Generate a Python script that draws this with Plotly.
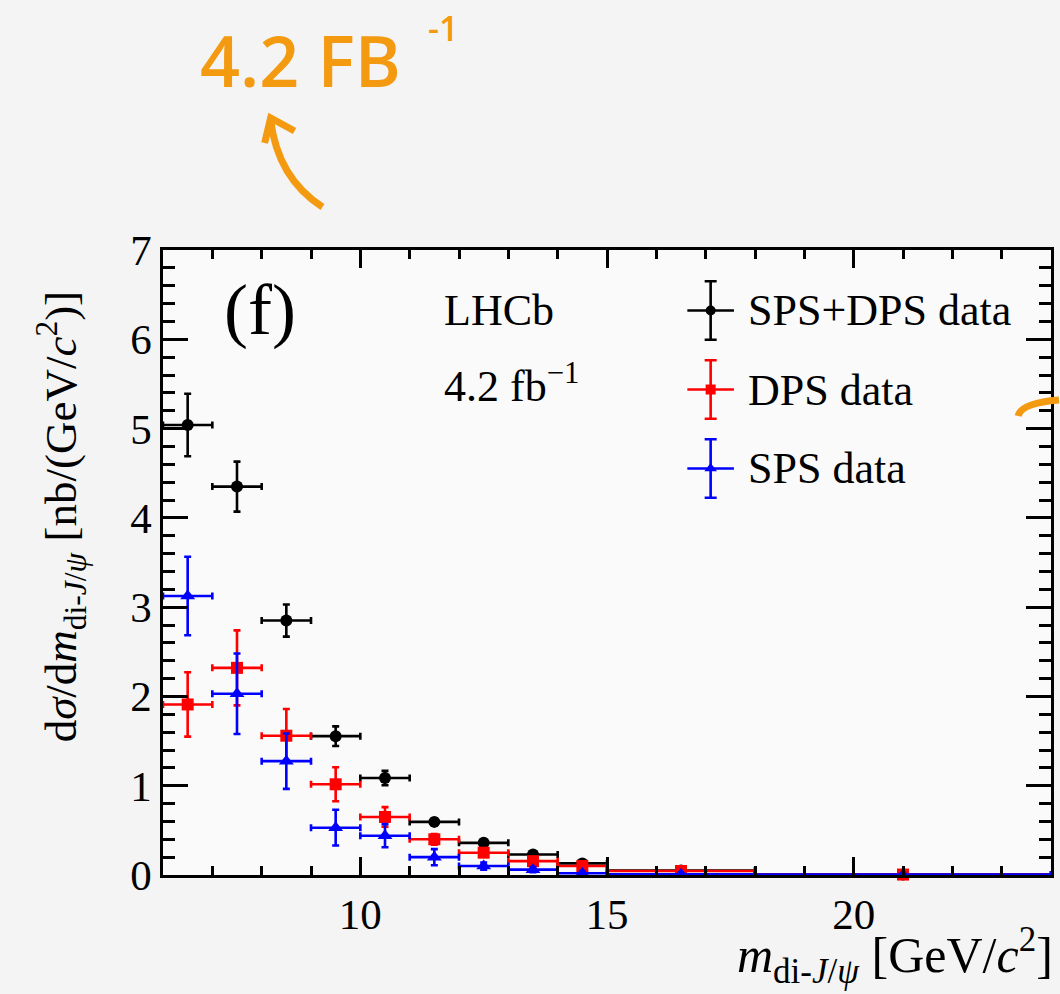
import plotly.graph_objects as go

# ---------------- data ----------------
bin_centers = [6.5, 7.5, 8.5, 9.5, 10.5, 11.5, 12.5, 13.5, 14.5, 16.5, 21.0]
bin_half_widths = [0.5, 0.5, 0.5, 0.5, 0.5, 0.5, 0.5, 0.5, 0.5, 1.5, 3.0]

sps_dps = [5.04, 4.35, 2.85, 1.555, 1.086, 0.595, 0.36, 0.23, 0.13, 0.05, 0.006]
sps_dps_err = [0.35, 0.28, 0.18, 0.11, 0.08, 0.04, 0.03, 0.02, 0.015, 0.008, 0.003]

dps = [1.91, 2.32, 1.56, 1.016, 0.65, 0.40, 0.25, 0.155, 0.10, 0.045, 0.005]
dps_err = [0.36, 0.42, 0.30, 0.19, 0.11, 0.06, 0.04, 0.03, 0.02, 0.01, 0.003]

sps = [3.125, 2.03, 1.275, 0.53, 0.44, 0.20, 0.10, 0.06, 0.02, 0.008, 0.004]
sps_err = [0.44, 0.45, 0.31, 0.20, 0.13, 0.09, 0.04, 0.03, 0.02, 0.006, 0.003]

series_names = ["SPS+DPS data", "DPS data", "SPS data"]
series_colors = ["#000000", "#ff0000", "#0000ff"]
series_symbols = ["circle", "square", "triangle-up"]

x_range = [6, 24]
y_range = [0, 7]

# ---------------- layout helpers (pixel -> paper) ----------------
W, H = 1060, 994
L, R, T, B = 163, 1054, 250, 875


def px(x):
    return (x - L) / (R - L)


def py(y):
    return (B - y) / (B - T)


SERIF = "Liberation Serif"
ORANGE = "#f39a10"

fig = go.Figure()

series = [(sps_dps, sps_dps_err), (dps, dps_err), (sps, sps_err)]
msizes = [12, 12, 13]
for (vals, errs), name, col, sym, ms in zip(series, series_names, series_colors,
                                            series_symbols, msizes):
    fig.add_trace(go.Scatter(
        x=bin_centers, y=vals, mode="markers", name=name, showlegend=False,
        marker=dict(color=col, size=ms, symbol=sym, line=dict(width=0)),
        error_x=dict(type="data", array=bin_half_widths, color=col,
                     thickness=2.6, width=3.5),
        error_y=dict(type="data", array=errs, color=col,
                     thickness=2.6, width=3.5),
        cliponaxis=False,
    ))

# legend glyphs on an invisible inset axis
legend_rows = [2.5, 1.5, 0.5]
for row, name, col, sym, ms in zip(legend_rows, series_names, series_colors,
                                   series_symbols, msizes):
    fig.add_trace(go.Scatter(
        x=[0], y=[row], mode="markers", showlegend=False, xaxis="x2", yaxis="y2",
        marker=dict(color=col, size=ms - 2, symbol=sym),
        error_x=dict(type="data", array=[0.85], color=col, thickness=2.6, width=0),
        error_y=dict(type="data", array=[0.37], color=col, thickness=2.6, width=6),
        cliponaxis=False,
    ))

axis_common = dict(
    showline=True, linecolor="black", linewidth=2.5, mirror="ticks",
    ticks="inside", tickcolor="black", tickwidth=2.5,
    showgrid=False, zeroline=False,
    tickfont=dict(family=SERIF, size=43, color="black"),
)

fig.update_layout(
    width=W, height=H,
    margin=dict(l=L, r=W - R, t=T, b=H - B),
    paper_bgcolor="#f4f4f4",
    plot_bgcolor="#fafafa",
    font=dict(family=SERIF, color="black"),
    xaxis=dict(range=x_range, tick0=0, dtick=5, ticklen=18,
               minor=dict(ticks="inside", dtick=1, ticklen=9, tickwidth=2.5,
                          tickcolor="black", showgrid=False),
               **axis_common),
    yaxis=dict(range=y_range, dtick=1, ticklen=25,
               minor=dict(ticks="inside", dtick=0.2, ticklen=12, tickwidth=2.5,
                          tickcolor="black", showgrid=False),
               **axis_common),
    xaxis2=dict(domain=[px(685), px(740)], range=[-1, 1], anchor="y2",
                visible=False, fixedrange=True),
    yaxis2=dict(domain=[py(508), py(271)], range=[0, 3], anchor="x2",
                visible=False, fixedrange=True),
    showlegend=False,
)


def note(text, x, y, size, xanchor="center", yanchor="middle", family=SERIF,
         color="black", **kw):
    return dict(text=text, x=px(x), y=py(y), xref="paper", yref="paper",
                xanchor=xanchor, yanchor=yanchor, showarrow=False,
                font=dict(family=family, size=size, color=color, **kw))


annotations = []
# panel label and experiment text
annotations.append(note("(f)", 260, 310, 72))
annotations.append(note("LHCb", 443, 310, 44, xanchor="left"))
annotations.append(note("4.2 fb<sup>\u22121</sup>", 443, 383, 44, xanchor="left"))
# legend labels
legend_text_y = [310, 390, 468]
for name, yy in zip(series_names, legend_text_y):
    annotations.append(note(name, 748, yy, 44, xanchor="left"))
# axis titles
yt = note("d<i>σ</i>/d<i>m</i><sub>di-<i>J</i>/<i>ψ</i></sub> [nb/(GeV/<i>c</i><sup>2</sup>)]",
          60, 517, 45)
yt["textangle"] = -90
annotations.append(yt)
annotations.append(note("<i>m</i><sub>di-<i>J</i>/<i>ψ</i></sub> [GeV/<i>c</i><sup>2</sup>]",
                        1058, 993, 50, xanchor="right", yanchor="bottom"))
# handwritten orange note
annotations.append(note("4.2 FB", 198, 60, 70, xanchor="left", family="Open Sans",
                        color=ORANGE, weight=600))
annotations.append(note("-1", 444, 28, 34, family="Open Sans", color=ORANGE, weight=600))
fig.update_layout(annotations=annotations)


def pth(cmds):
    out = []
    for c in cmds:
        if isinstance(c, str):
            out.append(c)
        else:
            out.append(f"{px(c[0]):.5f},{py(c[1]):.5f}")
    return " ".join(out)


shapes = [
    dict(type="path", xref="paper", yref="paper",
         path=pth(["M", (323, 207), "Q", (278, 178), (271, 120)]),
         line=dict(color=ORANGE, width=7)),
    dict(type="path", xref="paper", yref="paper",
         path=pth(["M", (265, 143), "L", (271, 118), "L", (295, 131)]),
         line=dict(color=ORANGE, width=7)),
    dict(type="path", xref="paper", yref="paper",
         path=pth(["M", (1021, 416), "Q", (1024, 403), (1062, 400)]),
         line=dict(color=ORANGE, width=7)),
]
fig.update_layout(shapes=shapes)

fig.write_html("out.html")
